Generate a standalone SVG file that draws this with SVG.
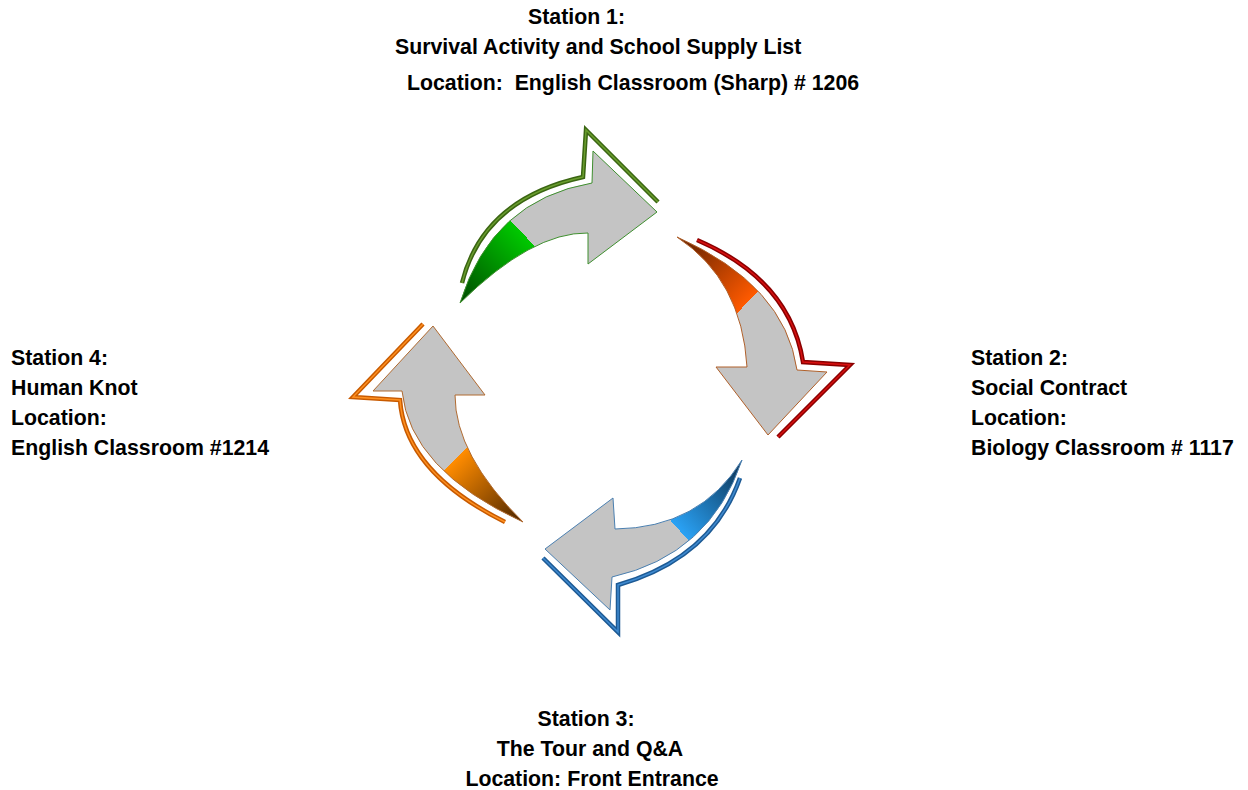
<svg xmlns="http://www.w3.org/2000/svg" width="1248" height="790" viewBox="0 0 1248 790">
<style>
text{font-family:"Liberation Sans",Arial,sans-serif;font-weight:bold;font-size:21.3px;fill:#000}
.mid{text-anchor:middle}
.ol{fill:none;stroke-linejoin:miter;stroke-linecap:butt}
.body{stroke-width:1}
</style>
<defs>
<linearGradient id="gG" gradientUnits="userSpaceOnUse" x1="460" y1="303" x2="604.9" y2="165.3">
<stop offset="0" stop-color="#004a00"/><stop offset="0.467" stop-color="#00c800"/><stop offset="0.467" stop-color="#c4c4c4"/><stop offset="1" stop-color="#c4c4c4"/>
</linearGradient>
<linearGradient id="gR" gradientUnits="userSpaceOnUse" x1="677" y1="237" x2="822.4" y2="374.3">
<stop offset="0" stop-color="#5a1e00"/><stop offset="0.48" stop-color="#ff5a00"/><stop offset="0.48" stop-color="#c4c4c4"/><stop offset="1" stop-color="#c4c4c4"/>
</linearGradient>
<linearGradient id="gB" gradientUnits="userSpaceOnUse" x1="742" y1="460" x2="593.3" y2="593.8">
<stop offset="0" stop-color="#0c3050"/><stop offset="0.468" stop-color="#2aa2f5"/><stop offset="0.468" stop-color="#c4c4c4"/><stop offset="1" stop-color="#c4c4c4"/>
</linearGradient>
<linearGradient id="gO" gradientUnits="userSpaceOnUse" x1="523" y1="522" x2="381.6" y2="380.6">
<stop offset="0" stop-color="#4a2400"/><stop offset="0.46" stop-color="#ff8c00"/><stop offset="0.46" stop-color="#c4c4c4"/><stop offset="1" stop-color="#c4c4c4"/>
</linearGradient>
</defs>

<g id="connectors">
  <g id="arrow1">
    <path class="body" d="M460,303 Q492,200 592,183 L593,151 L657,212 L588,264 L588,233 Q532,232 460,303 Z" fill="url(#gG)" stroke="#3f8f2f"/>
    <path class="ol" d="M462,283 Q483,199 583,177 L586,130 L658,202" stroke="#3a6512" stroke-width="4.5"/>
    <path class="ol" d="M462,283 Q483,199 583,177 L586,130 L658,202" stroke="#6a9e2e" stroke-width="1.5"/>
  </g>
  <g id="arrow2">
    <path class="body" d="M677,237 Q785,285 797,370 L827,372 L768,435 L716,367 L747,367 Q742,280 677,237 Z" fill="url(#gR)" stroke="#b0602a"/>
    <path class="ol" d="M697,240 Q790,280 803,362 L850,365 L778,437" stroke="#8a0000" stroke-width="4.5"/>
    <path class="ol" d="M697,240 Q790,280 803,362 L850,365 L778,437" stroke="#d81010" stroke-width="1.5"/>
  </g>
  <g id="arrow3">
    <path class="body" d="M742,460 Q710,555 612,577 L610,610 L545,549 L613,498 L615,529 Q700,528 742,460 Z" fill="url(#gB)" stroke="#4a7fb0"/>
    <path class="ol" d="M740,478 Q712,558 618,585 L618,632 L543,558" stroke="#1d5a94" stroke-width="4.5"/>
    <path class="ol" d="M740,478 Q712,558 618,585 L618,632 L543,558" stroke="#3f8ad0" stroke-width="1.5"/>
  </g>
  <g id="arrow4">
    <path class="body" d="M523,522 Q455,455 455,395 L485,395 L433,326 L373,391 L402,391 Q410,470 523,522 Z" fill="url(#gO)" stroke="#b06a30"/>
    <path class="ol" d="M505,522 Q405,472 400,400 L353,397 L423,324" stroke="#c85a00" stroke-width="4.5"/>
    <path class="ol" d="M505,522 Q405,472 400,400 L353,397 L423,324" stroke="#ff9020" stroke-width="1.5"/>
  </g>
</g>

<g id="station1">
  <text x="528" y="24">Station 1:</text>
  <text x="395" y="54">Survival Activity and School Supply List</text>
  <text x="407" y="90" xml:space="preserve">Location:  English Classroom (Sharp) # 1206</text>
</g>
<g id="station2">
  <text x="971" y="365">Station 2:</text>
  <text x="971" y="395">Social Contract</text>
  <text x="971" y="425">Location:</text>
  <text x="971" y="455">Biology Classroom # 1117</text>
</g>
<g id="station3">
  <text class="mid" x="586" y="726">Station 3:</text>
  <text class="mid" x="590" y="756">The Tour and Q&amp;A</text>
  <text class="mid" x="592" y="786">Location: Front Entrance</text>
</g>
<g id="station4">
  <text x="11" y="365">Station 4:</text>
  <text x="11" y="395">Human Knot</text>
  <text x="11" y="425">Location:</text>
  <text x="11" y="455">English Classroom #1214</text>
</g>
</svg>
